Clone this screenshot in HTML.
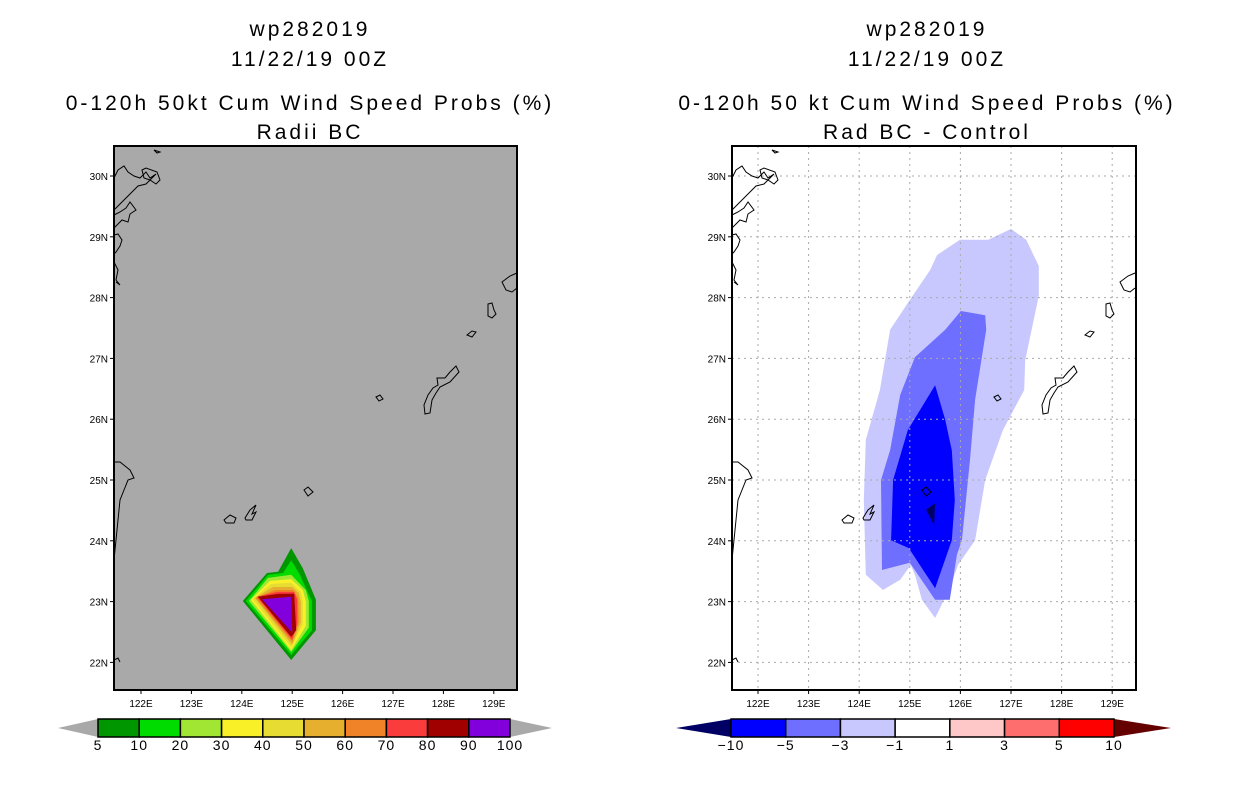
<!DOCTYPE html>
<html><head><meta charset="utf-8">
<style>
html,body{margin:0;padding:0;background:#fff;}
svg{display:block;font-family:"Liberation Sans",sans-serif;}
.t{font-size:21px;text-anchor:middle;fill:#000;letter-spacing:3px}
.tk{font-size:10px;fill:#000}
.cb{font-size:14px;text-anchor:middle;fill:#000;letter-spacing:1px}
</style></head>
<body>
<svg id="fig" width="1236" height="800" viewBox="0 0 1236 800">
<g id="left"></g>
<g id="right"></g>
</svg>
<script>
// ---- data ----
const lonTicks=[122,123,124,125,126,127,128,129];
const latTicks=[22,23,24,25,26,27,28,29,30];
const probLevels=[5,10,20,30,40,50,60,70,80,90,100];
const probColors=["#009600","#00dc00","#a0e632","#faf028","#e6dc32","#e6af2d","#f08228","#fa3c3c","#a00000","#8200dc"];
const diffLevels=[-10,-5,-3,-1,1,3,5,10];
const diffColors=["#0000ff","#6e6eff","#c8c8ff","#ffffff","#ffc8c8","#ff6e6e","#ff0000"];
// left: cumulative probability contours (lon,lat) outer to inner
const prob5=[[124.02,23.01],[124.50,23.47],[124.72,23.49],[124.98,23.88],[125.21,23.55],[125.47,23.03],[125.47,22.53],[124.98,22.04]];
const prob10=[[124.08,23.01],[124.52,23.44],[124.82,23.47],[124.98,23.68],[125.15,23.44],[125.39,23.01],[125.39,22.53],[124.98,22.12]];
const prob20=[[124.14,23.01],[124.52,23.39],[124.98,23.44],[125.27,23.19],[125.33,23.01],[125.33,22.57],[124.98,22.17]];
const prob30=[[124.18,23.03],[124.56,23.34],[124.98,23.37],[125.21,23.19],[125.27,23.01],[125.27,22.60],[124.98,22.20]];
const prob40=[[124.22,23.04],[124.58,23.29],[124.98,23.31],[125.17,23.16],[125.21,22.99],[125.21,22.63],[124.98,22.25]];
const prob50=[[124.26,23.06],[124.62,23.24],[125.00,23.24],[125.13,23.14],[125.17,22.98],[125.17,22.66],[125.00,22.29]];
const prob60=[[124.28,23.06],[124.66,23.19],[125.02,23.19],[125.12,23.06],[125.13,22.66],[125.00,22.34]];
const prob70=[[124.30,23.08],[124.70,23.16],[125.04,23.16],[125.10,23.03],[125.10,22.63],[125.00,22.37]];
const prob80=[[124.32,23.08],[124.74,23.13],[125.04,23.13],[125.08,22.53],[124.98,22.42]];
const prob90=[[124.40,23.04],[124.98,23.08],[125.00,22.49]];
const probPolys=[prob5,prob10,prob20,prob30,prob40,prob50,prob60,prob70,prob80,prob90];
// right: difference contours
const diffM1=[[127.00,29.13],[127.30,28.95],[127.55,28.52],[127.55,28.03],[127.28,26.97],[127.26,26.48],[126.84,25.82],[126.49,25.00],[126.29,24.01],[125.95,23.60],[125.79,23.22],[125.50,22.73],[125.24,23.03],[125.10,23.44],[125.02,23.60],[124.81,23.36],[124.47,23.19],[124.13,23.44],[124.09,24.67],[124.13,25.66],[124.41,26.48],[124.61,27.47],[125.00,27.96],[125.40,28.45],[125.54,28.70],[125.99,28.95],[126.55,28.95]];
const diffM3=[[126.01,27.78],[126.49,27.71],[126.51,27.47],[126.29,26.32],[126.19,25.33],[126.03,24.01],[125.93,23.77],[125.79,23.03],[125.50,23.03],[125.00,23.64],[124.45,23.52],[124.43,25.00],[124.61,25.49],[124.81,26.40],[125.10,27.02],[125.70,27.47]];
const diffM5=[[125.50,26.56],[125.70,25.99],[125.83,25.49],[125.89,24.67],[125.83,24.01],[125.50,23.22],[124.98,23.88],[124.63,24.01],[124.67,25.00],[124.96,25.82]];
const diffM10=[[125.50,24.62],[125.48,24.26],[125.32,24.51]];
const diffPolys=[[diffM1,"#c8c8ff"],[diffM3,"#6e6eff"],[diffM5,"#0000ff"],[diffM10,"#000064"]];

const NS="http://www.w3.org/2000/svg";
function mk(tag,attrs,parent){const e=document.createElementNS(NS,tag);for(const k in attrs)e.setAttribute(k,attrs[k]);parent.appendChild(e);return e;}

function makePanel(g,x0,x1,y0,y1,xA,xPer,bg,grid){
  const X=lon=>xA+(lon-122)*xPer;
  const Y=lat=>176+(30-lat)*60.8;
  return {X,Y,x0,x1,y0,y1,g,bg,grid};
}
const L=makePanel(document.getElementById('left'),114,517,146,690,141,50.4,"#a9a9a9",false);
const R=makePanel(document.getElementById('right'),732,1136,146,690,758,50.6,"#ffffff",true);

function titles(g,cx,lines){
  const ys=[36,66,110,139];
  lines.forEach((s,i)=>{const t=mk('text',{class:'t',x:cx,y:ys[i]},g);t.textContent=s;
  
  });
}
titles(L.g,310,["wp282019","11/22/19 00Z","0-120h 50kt Cum Wind Speed Probs (%)","Radii BC"]);
titles(R.g,927,["wp282019","11/22/19 00Z","0-120h 50 kt Cum Wind Speed Probs (%)","Rad BC - Control"]);

function ptsStr(P,poly){return poly.map(p=>P.X(p[0]).toFixed(1)+','+P.Y(p[1]).toFixed(1)).join(' ');}

// coastlines (pixel paths in left frame; shifted for right)
const coast=[
 "M114,178 L118,170 L124,166 L128,172 L134,176 L140,178 L146,172 L150,178 L156,174 L146,184 L138,186 L132,192 L124,200 L118,206 L114,210",
 "M142,170 L146,168 L157,172 L160,180 L156,184 L150,180 L144,178 Z",
 "M114,215 L120,212 L126,208 L130,202 L136,210 L130,214 L128,222 L122,220 L116,226 L114,228",
 "M114,235 L118,234 L122,240 L120,246 L116,252 L114,254",
 "M114,262 L118,270 L116,280 L120,285 L116,282",
 "M154,150 L160,152 L157,153 Z",
 "M114,462 L120,462 L130,470 L134,478 L128,480 L124,490 L120,500 L118,520 L116,540 L114,560",
 "M114,660 L118,658 L120,662",
 "M224,520 L230,515 L236,518 L234,523 L226,523 Z",
 "M245,518 L250,510 L256,505 L252,514 L256,512 L252,520 L246,520 Z",
 "M304,490 L308,487 L313,492 L308,496 Z",
 "M376,397 L380,395 L383,399 L379,401 Z",
 "M456,366 L459,372 L450,382 L440,387 L436,393 L432,400 L430,413 L425,414 L424,405 L428,395 L433,388 L438,385 L437,378 L445,378 L450,372 Z",
 "M467,335 L472,331 L476,332 L472,337 Z",
 "M488,304 L492,303 L494,310 L496,314 L492,318 L488,316 Z",
 "M517,273 L510,276 L502,282 L506,290 L512,292 L517,288"
];

function drawPanel(P,polys,isRight){
  const g=P.g;
  const bgR=mk('rect',{x:P.x0,y:P.y0,width:P.x1-P.x0,height:P.y1-P.y0,fill:P.bg},g);
  
  
  const cg=mk('g',{},g);
  
  
  polys.forEach((pc,i)=>{
    const p=mk('polygon',{points:ptsStr(P,pc[0]),fill:pc[1]},cg);
    
    
  });
  if(P.grid){
    const gg=mk('g',{stroke:'#aaa','stroke-width':1,'stroke-dasharray':'2,4'},g);
    
    
    lonTicks.forEach(l=>mk('line',{x1:P.X(l),x2:P.X(l),y1:P.y0,y2:P.y1},gg));
    latTicks.forEach(l=>mk('line',{x1:P.x0,x2:P.x1,y1:P.Y(l),y2:P.Y(l)},gg));
  }
  const co=mk('g',{fill:'none',stroke:'#000','stroke-width':1,transform:isRight?'translate(618,0)':''},g);
  
  
  coast.forEach(d=>mk('path',{d:d},co));
  const fr=mk('rect',{x:P.x0,y:P.y0,width:P.x1-P.x0,height:P.y1-P.y0,fill:'none',stroke:'#000','stroke-width':2},g);
  
  
  const tg=mk('g',{},g);
  
  
  lonTicks.forEach(l=>{
    const x=P.X(l);
    mk('line',{x1:x,x2:x,y1:P.y1,y2:P.y1+4,stroke:'#000'},tg);
    const t=mk('text',{class:'tk',x:x,y:P.y1+17,'text-anchor':'middle'},tg);t.textContent=l+'E';
    
    
  });
  latTicks.forEach(l=>{
    const y=P.Y(l);
    mk('line',{x1:P.x0-4,x2:P.x0,y1:y,y2:y,stroke:'#000'},tg);
    const t=mk('text',{class:'tk',x:P.x0-6,y:y+4,'text-anchor':'end'},tg);t.textContent=l+'N';
    
    
  });
}
drawPanel(L,probPolys.map((p,i)=>[p,probColors[i]]),false);
drawPanel(R,diffPolys,true);

function colorbar(g,xs,xe,tipL,tipR,colors,labels,leftCol,rightCol,name){
  const cb=mk('g',{},g);
  
  
  const y0=719,y1=737,n=colors.length,w=(xe-xs)/n,ym=(y0+y1)/2;
  mk('polygon',{points:`${tipL},${ym} ${xs},${y0} ${xs},${y1}`,fill:leftCol},cb);
  mk('polygon',{points:`${tipR},${ym} ${xe},${y0} ${xe},${y1}`,fill:rightCol},cb);
  colors.forEach((c,i)=>{
    const r=mk('rect',{x:xs+i*w,y:y0,width:w,height:y1-y0,fill:c,stroke:'#000','stroke-width':1.5},cb);
    
    
  });
  labels.forEach((v,i)=>{
    const t=mk('text',{class:'cb',x:xs+i*w,y:750},cb);t.textContent=(v<0?'\u2212'+(-v):v);
    
    
  });
}
colorbar(L.g,98,510,58,552,probColors,probLevels,"#a9a9a9","#a9a9a9","left-colorbar");
colorbar(R.g,731,1114,676,1171,diffColors,diffLevels,"#000064","#640000","right-colorbar");
</script>
</body></html>
